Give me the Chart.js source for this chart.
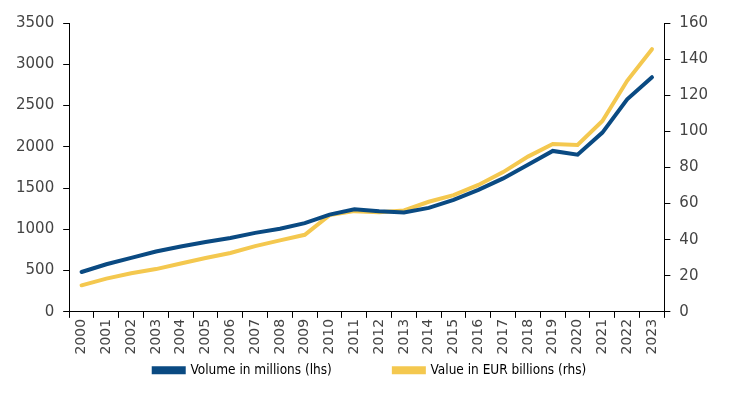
<!DOCTYPE html>
<html>
<head>
<meta charset="utf-8">
<script src="https://cdn.jsdelivr.net/npm/chart.js@4.4.1/dist/chart.umd.min.js"></script>
<style>
  html, body { margin: 0; padding: 0; background: #fff; }
  #wrap { width: 734px; height: 399px; }
</style>
</head>
<body>
<div id="wrap"><canvas id="chart" width="734" height="399"></canvas></div>
<script>
const years = ["2000","2001","2002","2003","2004","2005","2006","2007","2008","2009","2010","2011",
               "2012","2013","2014","2015","2016","2017","2018","2019","2020","2021","2022","2023"];

// volume in millions, left axis
const volume = [483, 577, 655, 732, 793, 847, 895, 957, 1008, 1075, 1178, 1242,
                1220, 1205, 1260, 1357, 1478, 1617, 1782, 1950, 1905, 2172, 2575, 2843];

// value in EUR billions, right axis
const value = [14.7, 18.4, 21.4, 23.7, 26.8, 29.8, 32.6, 36.4, 39.6, 42.7, 53.6, 55.8,
               55.2, 56.2, 61.0, 64.7, 70.3, 77.4, 86.0, 93.0, 92.4, 105.7, 128.0, 145.5];

const leftTicks = [0, 500, 1000, 1500, 2000, 2500, 3000, 3500];
const rightTicks = [0, 20, 40, 60, 80, 100, 120, 140, 160];

const BLUE = "#0a4a82";
const GOLD = "#f4c84f";
const tickColor = "#444444";
const yFont = { family: "'DejaVu Sans', sans-serif", size: 15 };
const xFont = { family: "'DejaVu Sans', sans-serif", size: 14 };

const axisGrid = {
    drawOnChartArea: false,
    drawTicks: true,
    tickLength: 6,
    color: "#000000",
    lineWidth: 1,
};

new Chart(document.getElementById("chart").getContext("2d"), {
    type: "line",
    data: {
        labels: years,
        datasets: [
            {
                label: "Volume in millions (lhs)",
                data: volume,
                yAxisID: "y",
                borderColor: BLUE,
                backgroundColor: BLUE,
                borderWidth: 4,
                pointRadius: 0,
                tension: 0,
                borderCapStyle: "round",
            },
            {
                label: "Value in EUR billions (rhs)",
                data: value,
                yAxisID: "y1",
                borderColor: GOLD,
                backgroundColor: GOLD,
                borderWidth: 4,
                pointRadius: 0,
                tension: 0,
                borderCapStyle: "round",
            },
        ],
    },
    options: {
        responsive: false,
        animation: false,
        // legend is centred between left/right padding, axis widths are nudged to compensate
        layout: { padding: { left: 15, right: 9, top: 23, bottom: 12 } },
        plugins: {
            tooltip: { enabled: false },
            legend: {
                position: "bottom",
                labels: {
                    boxWidth: 30,
                    boxHeight: 4,
                    padding: 8,
                    color: "#000",
                    font: { family: "'Liberation Sans Narrow', 'DejaVu Sans Condensed', sans-serif", size: 13.5 },
                    // wider gap between the two entries without growing the legend height
                    generateLabels: (chart) => {
                        const items = Chart.defaults.plugins.legend.labels.generateLabels(chart);
                        items[0].text = items[0].text + "\u00a0".repeat(14);
                        return items;
                    },
                },
            },
        },
        scales: {
            x: {
                offset: true,
                grid: { ...axisGrid, offset: true },
                border: { display: true, color: "#000", width: 1 },
                ticks: {
                    color: tickColor,
                    font: xFont,
                    minRotation: 90,
                    maxRotation: 90,
                    autoSkip: false,
                    padding: 1,
                },
            },
            y: {
                position: "left",
                min: 0,
                max: 3500,
                afterBuildTicks: (axis) => { axis.ticks = leftTicks.map(v => ({ value: v })); },
                afterFit: (axis) => { axis.width -= 8; },
                grid: axisGrid,
                border: { display: true, color: "#000", width: 1 },
                ticks: { color: tickColor, font: yFont, padding: 9, callback: (v) => String(v) },
            },
            y1: {
                position: "right",
                min: 0,
                max: 160,
                afterBuildTicks: (axis) => { axis.ticks = rightTicks.map(v => ({ value: v })); },
                afterFit: (axis) => { axis.width += 8; },
                grid: axisGrid,
                border: { display: true, color: "#000", width: 1 },
                ticks: { color: tickColor, font: yFont, padding: 9, callback: (v) => String(v) },
            },
        },
    },
});
</script>
</body>
</html>
